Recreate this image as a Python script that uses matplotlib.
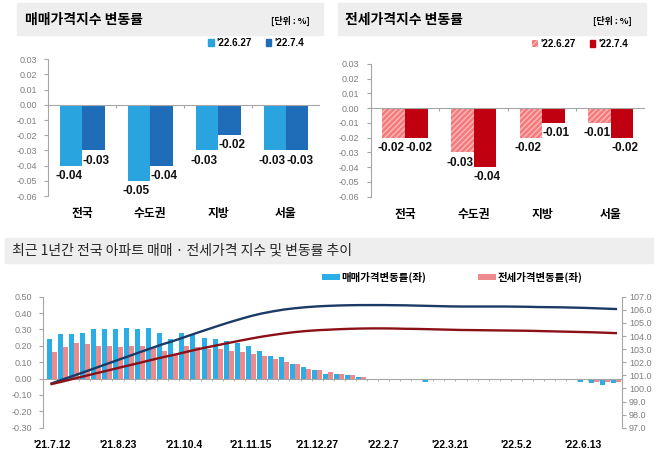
import numpy as np
import matplotlib
matplotlib.use('Agg')
import matplotlib.pyplot as plt
from matplotlib.patches import Rectangle, Patch

plt.rcParams['font.family'] = ['Noto Sans CJK KR', 'DejaVu Sans']

# 상단: 지역별 주간 변동률 (%)
regions = ['전국', '수도권', '지방', '서울']
sale_0627 = [-0.04, -0.05, -0.03, -0.03]
sale_0704 = [-0.03, -0.04, -0.02, -0.03]
jeonse_0627 = [-0.02, -0.03, -0.02, -0.01]
jeonse_0704 = [-0.02, -0.04, -0.01, -0.02]
week_names = ["'22.6.27", "'22.7.4"]

# 하단: 최근 1년 주간 변동률(좌) / 지수(우), '21.7.12 ~ '22.7.4
sale_rate = [0.24, 0.27, 0.27, 0.28, 0.30, 0.30, 0.30, 0.31, 0.30, 0.31,
             0.28, 0.24, 0.28, 0.27, 0.25, 0.24, 0.23, 0.22, 0.20, 0.17,
             0.14, 0.13, 0.09, 0.07, 0.05, 0.03, 0.03, 0.02, 0.01, 0.00,
             0.00, 0.00, -0.01, -0.01, -0.02, -0.01, -0.01, -0.01, 0.00, 0.00,
             0.00, 0.00, 0.00, -0.01, -0.01, -0.01, -0.01, -0.01, -0.02, -0.03,
             -0.04, -0.03]
jeonse_rate = [0.16, 0.19, 0.22, 0.21, 0.20, 0.20, 0.19, 0.20, 0.20, 0.19,
               0.17, 0.15, 0.20, 0.19, 0.18, 0.18, 0.17, 0.16, 0.15, 0.14,
               0.12, 0.10, 0.09, 0.06, 0.05, 0.04, 0.03, 0.02, 0.01, 0.00,
               0.00, -0.01, -0.01, -0.01, -0.01, -0.01, -0.01, 0.00, -0.01, 0.00,
               0.00, 0.00, 0.00, 0.00, -0.01, -0.01, -0.01, -0.01, -0.01, -0.02,
               -0.02, -0.02]
sale_index = [100.38, 100.68, 100.97, 101.27, 101.57, 101.87, 102.17, 102.47, 102.77, 103.07,
              103.36, 103.62, 103.91, 104.20, 104.48, 104.76, 105.03, 105.28, 105.52, 105.72,
              105.88, 106.02, 106.12, 106.20, 106.26, 106.30, 106.33, 106.35, 106.36, 106.36,
              106.36, 106.35, 106.34, 106.32, 106.30, 106.28, 106.26, 106.25, 106.25, 106.25,
              106.25, 106.25, 106.24, 106.23, 106.21, 106.20, 106.19, 106.17, 106.15, 106.12,
              106.09, 106.06]
jeonse_index = [100.33, 100.53, 100.74, 100.94, 101.15, 101.35, 101.56, 101.76, 101.96, 102.17,
                102.37, 102.55, 102.75, 102.95, 103.13, 103.30, 103.47, 103.64, 103.80, 103.95,
                104.08, 104.20, 104.30, 104.38, 104.44, 104.48, 104.52, 104.55, 104.57, 104.58,
                104.58, 104.57, 104.55, 104.54, 104.52, 104.50, 104.48, 104.46, 104.45, 104.44,
                104.43, 104.42, 104.41, 104.40, 104.38, 104.36, 104.34, 104.32, 104.30, 104.28,
                104.25, 104.22]
tick_labels = ["'21.7.12", "'21.8.23", "'21.10.4", "'21.11.15", "'21.12.27",
               "'22.2.7", "'22.3.21", "'22.5.2", "'22.6.13"]

W, H = 658, 458
NUM = 'Liberation Sans'
GRAY = '#A6A6A6'
TICK = '#7F7F7F'

def box(x0, y0, x1, y1):
    # 픽셀 좌표(위에서부터) -> figure 비율
    return [x0 / W, 1 - y1 / H, (x1 - x0) / W, (y1 - y0) / H]

def title_bar(x0, y0, x1, y1):
    r = box(x0, y0, x1, y1)
    fig.patches.append(Rectangle((r[0], r[1]), r[2], r[3], transform=fig.transFigure,
                                 color='#EEEEEE', zorder=0))

fig = plt.figure(figsize=(W / 100, H / 100), dpi=100)


def change_panel(rect, v1, v2, c1, c2, hatch1=None):
    ax = fig.add_axes(rect)
    x = np.arange(len(regions))
    w = 0.33
    b1 = ax.bar(x - w / 2, v1, w, color=c1, hatch=hatch1, edgecolor='#F9B9B9', linewidth=0)
    b2 = ax.bar(x + w / 2, v2, w, color=c2, linewidth=0)
    # 라벨은 막대 중심에서 바깥쪽으로 조금씩 벌려 둔다
    for bars, vals, dx in ((b1, v1, -1.8), (b2, v2, 1.8)):
        for b, v in zip(bars, vals):
            ax.annotate(f'{v:.2f}', (b.get_x() + b.get_width() / 2, v), xytext=(dx, -3),
                        textcoords='offset points', ha='center', va='top',
                        fontsize=8.5, family=NUM, fontweight='bold', color='#111111')
    ax.axhline(0, color=GRAY, lw=0.8)
    ax.vlines(x[:-1] + 0.5, -0.0018, 0, color=GRAY, lw=0.8)
    ax.set_xlim(-0.5, 3.5)
    ax.set_ylim(-0.06, 0.03)
    yt = np.arange(-6, 4) / 100
    ax.set_yticks(yt, [f'{v:.2f}' for v in yt])
    ax.set_xticks(x, regions)
    for s in ['top', 'right', 'bottom']:
        ax.spines[s].set_visible(False)
    ax.spines['left'].set_color(GRAY)
    ax.tick_params(axis='y', length=3, color=GRAY, labelsize=6.5, labelcolor=TICK, pad=5)
    for t in ax.get_yticklabels():
        t.set_family(NUM)
    ax.tick_params(axis='x', length=0, labelsize=8.5, pad=8)
    for t in ax.get_xticklabels():
        t.set_fontweight('bold')
    ax.patch.set_alpha(0)
    return ax


# 매매가격지수 변동률
title_bar(17, 3, 323, 35)
fig.text(25 / W, 1 - 20 / H, '매매가격지수 변동률', fontsize=10, fontweight='bold',
         va='center', ha='left')
fig.text(310 / W, 1 - 21 / H, '[단위 : %]', fontsize=6.5, fontweight='bold',
         va='center', ha='right')
ax1 = change_panel(box(48.3, 59.3, 320, 196), sale_0627, sale_0704, '#29A4DE', '#1F6DB8')
ax1.legend(handles=[Patch(color='#29A4DE', label=week_names[0]),
                    Patch(color='#1F6DB8', label=week_names[1])],
           ncol=2, loc='center right', bbox_to_anchor=(309 / W, 1 - 43 / H),
           bbox_transform=fig.transFigure, frameon=False, handlelength=0.6,
           handleheight=0.6, handletextpad=0.3, columnspacing=1.4, borderpad=0,
           prop={'family': NUM, 'weight': 'bold', 'size': 7})

# 전세가격지수 변동률
title_bar(338, 3, 646, 35)
fig.text(345 / W, 1 - 20 / H, '전세가격지수 변동률', fontsize=10, fontweight='bold',
         va='center', ha='left')
fig.text(632 / W, 1 - 21 / H, '[단위 : %]', fontsize=6.5, fontweight='bold',
         va='center', ha='right')
ax2 = change_panel(box(370.7, 64, 645, 196.7), jeonse_0627, jeonse_0704, '#F47A7C', '#C00010',
                   hatch1='//////')
ax2.legend(handles=[Patch(facecolor='#F47A7C', edgecolor='#F9B9B9', hatch='//////', lw=0,
                          label=week_names[0]),
                    Patch(color='#C00010', label=week_names[1])],
           ncol=2, loc='center right', bbox_to_anchor=(633 / W, 1 - 44 / H),
           bbox_transform=fig.transFigure, frameon=False, handlelength=0.6,
           handleheight=0.6, handletextpad=0.3, columnspacing=1.4, borderpad=0,
           prop={'family': NUM, 'weight': 'bold', 'size': 7})

# 최근 1년간 추이
title_bar(5, 238, 653, 263)
fig.text(12 / W, 1 - 251 / H, '최근 1년간 전국 아파트 매매 · 전세가격 지수 및 변동률 추이',
         fontsize=10, fontweight='medium', va='center', ha='left', color='#262626')

ax3 = fig.add_axes(box(43.3, 296.7, 622, 427.7))
wk = np.arange(len(sale_rate))
bw = 0.45
ax3.bar(wk - bw / 2, sale_rate, bw, color='#2BAEE6', linewidth=0, label='매매가격변동률(좌)')
ax3.bar(wk + bw / 2, jeonse_rate, bw, color='#EE8A8E', linewidth=0, label='전세가격변동률(좌)')
ax3.axhline(0, color=GRAY, lw=0.8)
ax3.vlines(wk[:-1] + 0.5, -0.012, 0, color=GRAY, lw=0.6)
ax3.set_xlim(-0.75, 51.55)
ax3.set_ylim(-0.3, 0.5)
yl = np.arange(-3, 6) / 10
ax3.set_yticks(yl, [f'{v:.2f}' for v in yl])
ax3.set_xticks(wk[::6], tick_labels)
for s in ['top', 'right', 'bottom']:
    ax3.spines[s].set_visible(False)
ax3.spines['left'].set_color(GRAY)
ax3.tick_params(axis='y', length=3, color=GRAY, labelsize=6.5, labelcolor=TICK, pad=5)
ax3.tick_params(axis='x', length=0, labelsize=7.5, pad=9)
for t in ax3.get_yticklabels():
    t.set_family(NUM)
for t in ax3.get_xticklabels():
    t.set_family(NUM)
    t.set_fontweight('bold')

ax4 = ax3.twinx()
ax4.plot(wk, sale_index, color='#1B3A66', lw=1.7)
ax4.plot(wk, jeonse_index, color='#8C1018', lw=1.7)
ax4.set_ylim(97, 107)
yr = np.arange(97, 108)
ax4.set_yticks(yr, [f'{v:.1f}' for v in yr])
for s in ['top', 'left', 'bottom']:
    ax4.spines[s].set_visible(False)
ax4.spines['right'].set_color(GRAY)
ax4.tick_params(axis='y', length=3, color=GRAY, labelsize=6.5, labelcolor=TICK, pad=2)
for t in ax4.get_yticklabels():
    t.set_family(NUM)

h, l = ax3.get_legend_handles_labels()
ax3.legend(h, l, ncol=2, loc='center left', bbox_to_anchor=(317 / W, 1 - 277 / H),
           bbox_transform=fig.transFigure, frameon=False, handlelength=1.7,
           handleheight=0.45, handletextpad=0.15, columnspacing=5.0, borderpad=0,
           prop={'weight': 'bold', 'size': 7.5})

fig.savefig('out.png', dpi=100)
